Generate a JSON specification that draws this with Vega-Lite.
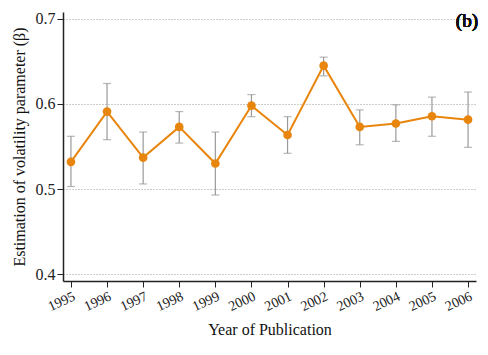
{
  "$schema": "https://vega.github.io/schema/vega-lite/v6.json",
  "width": 413,
  "height": 269,
  "autosize": {"type": "none"},
  "padding": {"left": 63, "top": 12, "right": 12, "bottom": 74},
  "background": "white",
  "config": {
    "view": {"stroke": null},
    "font": "Times New Roman, Liberation Serif, DejaVu Serif, serif",
    "axis": {"labelFont": "Times New Roman, Liberation Serif, DejaVu Serif, serif", "titleFont": "Times New Roman, Liberation Serif, DejaVu Serif, serif", "titleFontWeight": "normal", "labelColor": "#222", "titleColor": "#111", "domainColor": "#222", "tickColor": "#222"}
  },
  "data": {
    "values": [
      {"year": 1995, "beta": 0.532, "lo": 0.503, "hi": 0.562},
      {"year": 1996, "beta": 0.591, "lo": 0.558, "hi": 0.624},
      {"year": 1997, "beta": 0.537, "lo": 0.506, "hi": 0.567},
      {"year": 1998, "beta": 0.573, "lo": 0.554, "hi": 0.591},
      {"year": 1999, "beta": 0.530, "lo": 0.493, "hi": 0.567},
      {"year": 2000, "beta": 0.598, "lo": 0.585, "hi": 0.611},
      {"year": 2001, "beta": 0.5635, "lo": 0.542, "hi": 0.585},
      {"year": 2002, "beta": 0.645, "lo": 0.633, "hi": 0.655},
      {"year": 2003, "beta": 0.573, "lo": 0.552, "hi": 0.593},
      {"year": 2004, "beta": 0.577, "lo": 0.556, "hi": 0.599},
      {"year": 2005, "beta": 0.5855, "lo": 0.562, "hi": 0.608},
      {"year": 2006, "beta": 0.5815, "lo": 0.549, "hi": 0.614}
    ]
  },
  "encoding": {
    "x": {
      "field": "year", "type": "quantitative",
      "scale": {"domain": [1994.78, 2006.22], "nice": false, "zero": false},
      "axis": {
        "values": [1995, 1996, 1997, 1998, 1999, 2000, 2001, 2002, 2003, 2004, 2005, 2006],
        "format": "d", "labelAngle": -25, "labelAlign": "right", "labelBaseline": "top",
        "labelFontSize": 14, "labelPadding": 2, "tickSize": 6, "tickWidth": 1, "domainWidth": 1.5,
        "grid": false, "title": "Year of Publication", "titleFontSize": 16, "titlePadding": 8,
        "labelFlush": false, "labelOverlap": false
      }
    }
  },
  "layer": [
    {
      "mark": {"type": "rule", "color": "#999999", "strokeWidth": 1.2},
      "encoding": {
        "y": {
          "field": "lo", "type": "quantitative",
          "scale": {"domain": [0.392, 0.708], "nice": false, "zero": false},
          "axis": {
            "values": [0.4, 0.5, 0.6, 0.7], "format": ".1f",
            "labelFontSize": 16, "tickSize": 6, "tickWidth": 1, "domainWidth": 1.5, "labelPadding": 2,
            "grid": true, "gridDash": [1, 2], "gridColor": "#999999", "gridWidth": 1,
            "title": "Estimation of volatility parameter (β)", "titleFontSize": 16, "titlePadding": 8
          }
        },
        "y2": {"field": "hi"}
      }
    },
    {
      "mark": {"type": "tick", "orient": "horizontal", "size": 8, "thickness": 1.2, "color": "#999999"},
      "encoding": {"y": {"field": "lo", "type": "quantitative"}}
    },
    {
      "mark": {"type": "tick", "orient": "horizontal", "size": 8, "thickness": 1.2, "color": "#999999"},
      "encoding": {"y": {"field": "hi", "type": "quantitative"}}
    },
    {
      "mark": {"type": "line", "color": "#E8850C", "strokeWidth": 2},
      "encoding": {"y": {"field": "beta", "type": "quantitative"}}
    },
    {
      "mark": {"type": "point", "filled": true, "opacity": 1, "color": "#E8850C", "size": 75},
      "encoding": {"y": {"field": "beta", "type": "quantitative"}}
    },
    {
      "mark": {"type": "text", "text": "(b)", "align": "right", "baseline": "middle", "fontSize": 19, "fontWeight": "normal", "color": "#111", "dx": 2, "dy": 2},
      "encoding": {"x": {"datum": 2006.22}, "y": {"datum": 0.7}}
    }
  ]
}
